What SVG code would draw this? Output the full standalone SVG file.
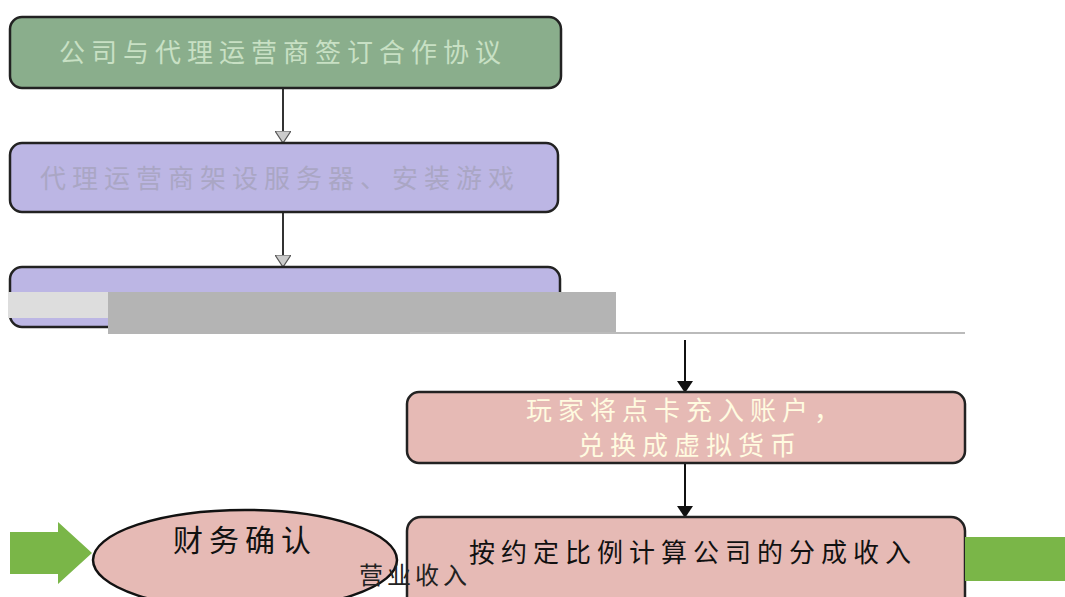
<svg xmlns="http://www.w3.org/2000/svg" width="1065" height="597" viewBox="0 0 1065 597">
<defs>
<style>
.t{font-family:"Noto Sans CJK SC","Liberation Sans",sans-serif;font-size:26px;text-anchor:middle;letter-spacing:6px}
.box{stroke:#222;stroke-width:2.5}
</style>
<marker id="open" viewBox="0 0 12 16" refX="11" refY="8" markerWidth="12" markerHeight="16" markerUnits="userSpaceOnUse" orient="auto"><path d="M0,0 L12,8 L0,16 Z" fill="#ccc" stroke="#555" stroke-width="1.2"/></marker>
<marker id="solid" viewBox="0 0 12 16" refX="11" refY="8" markerWidth="14" markerHeight="16" markerUnits="userSpaceOnUse" orient="auto"><path d="M0,0 L12,8 L0,16 Z" fill="#111"/></marker>
</defs>
<rect width="1065" height="597" fill="#fff"/>
<g id="connectors">
<line x1="283" y1="88" x2="283" y2="142" stroke="#333" stroke-width="2" marker-end="url(#open)"/>
<line x1="283" y1="212" x2="283" y2="266" stroke="#333" stroke-width="2" marker-end="url(#open)"/>
<line x1="685" y1="340" x2="685" y2="392" stroke="#111" stroke-width="2" marker-end="url(#solid)"/>
<line x1="685" y1="463" x2="685" y2="517" stroke="#111" stroke-width="2" marker-end="url(#solid)"/>
</g>
<g id="n1"><rect class="box" x="10" y="17" width="551" height="71" rx="12" fill="#8aae8c"/><text class="t" x="283" y="62" fill="#c8e0c4">公司与代理运营商签订合作协议</text></g>
<g id="n2"><rect class="box" x="10" y="143" width="548" height="69" rx="12" fill="#bcb6e4"/><text class="t" x="280" y="188" fill="#aaa6c4">代理运营商架设服务器、安装游戏</text></g>
<g id="n3"><rect class="box" x="10" y="267" width="550" height="60" rx="12" fill="#bcb6e4"/><rect x="8" y="292" width="100" height="26" fill="#ddd"/><rect x="108" y="292" width="508" height="42" fill="#b4b4b4"/><line x1="410" y1="333" x2="965" y2="333" stroke="#bbb" stroke-width="2"/></g>
<g id="n4"><rect class="box" x="407" y="392" width="558" height="71" rx="12" fill="#e6bab5"/><text class="t" x="686" y="420" fill="#fffbe0">玩家将点卡充入账户，</text><text class="t" x="690" y="455" fill="#fffbe0">兑换成虚拟货币</text></g>
<g id="n5"><rect class="box" x="407" y="517" width="558" height="100" rx="14" fill="#e6bab5"/><text class="t" x="693" y="562" fill="#111">按约定比例计算公司的分成收入</text></g>
<g id="arrowIn"><path d="M10,532 L58,532 L58,522 L92,553 L58,584 L58,574 L10,574 Z" fill="#7ab648"/><rect x="965" y="537" width="100" height="44" fill="#7ab648"/></g>
<g id="n6"><ellipse cx="245" cy="560" rx="152" ry="50" fill="#e6bab5" stroke="#111" stroke-width="2.5"/><text class="t" x="245" y="551" fill="#111" style="font-size:30px">财务确认</text></g>
<g id="lbl"><text class="t" x="415" y="584" fill="#222" style="font-size:24px;letter-spacing:4px">营业收入</text></g>
</svg>
